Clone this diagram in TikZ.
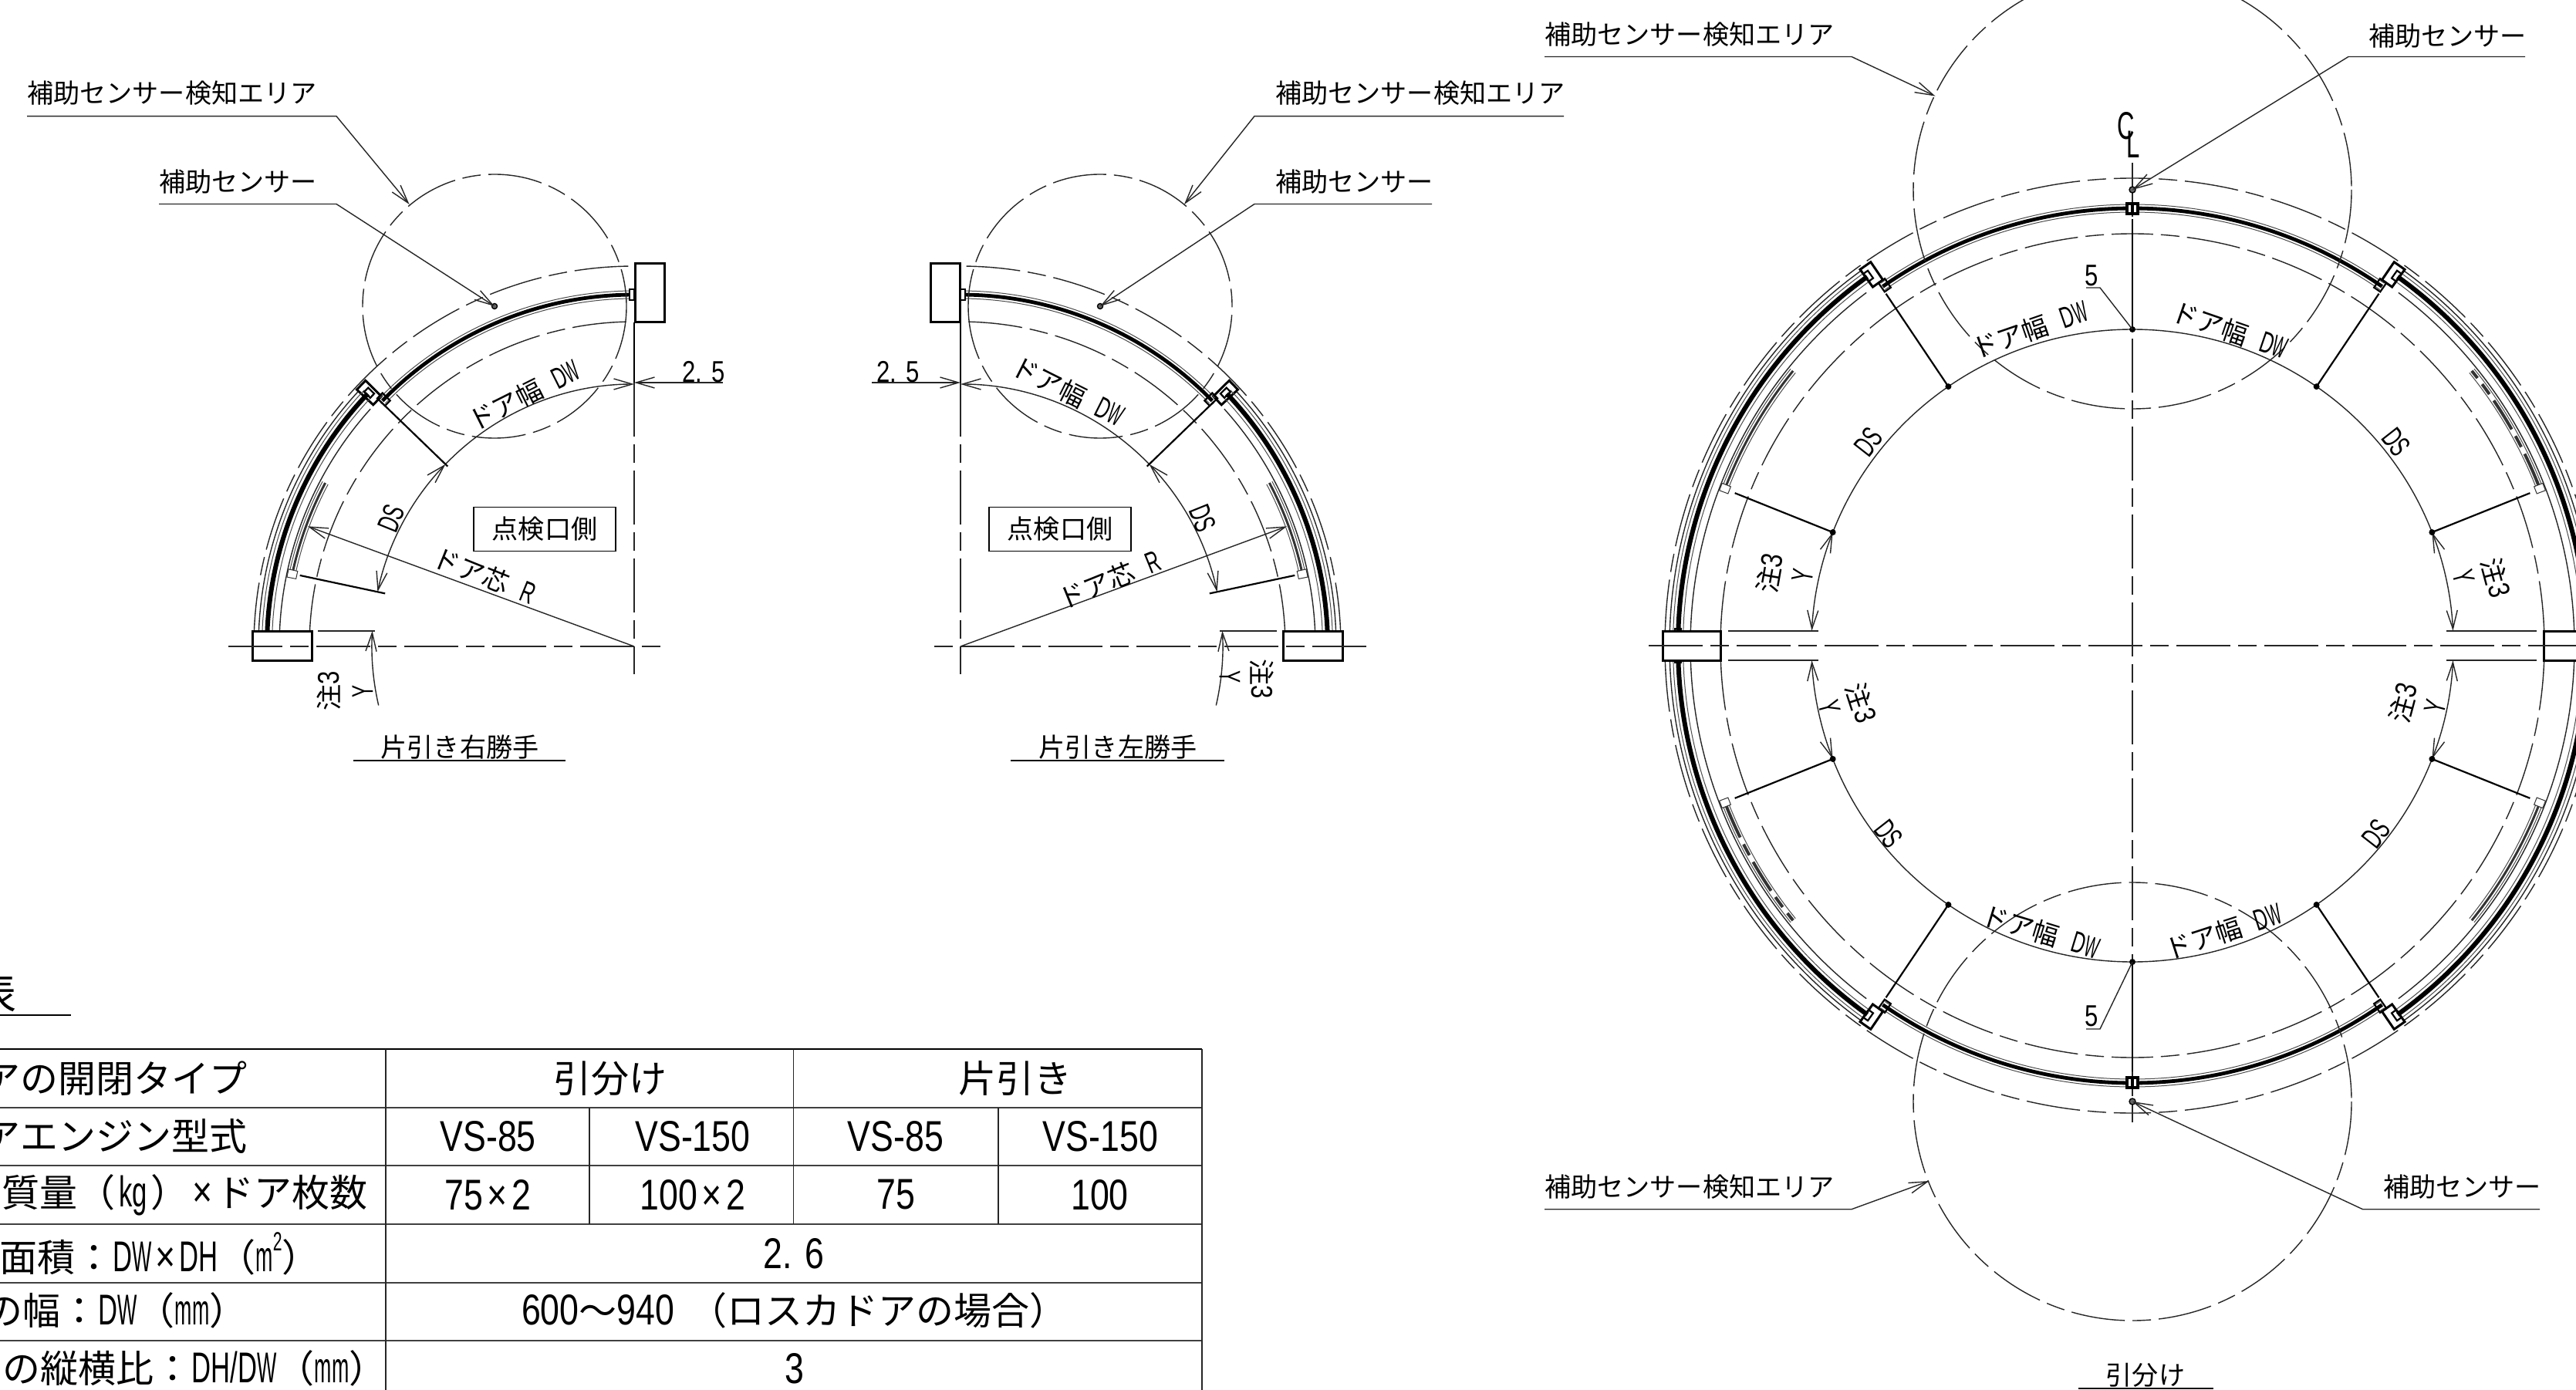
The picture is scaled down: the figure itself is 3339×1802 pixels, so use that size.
\documentclass[tikz,border=0pt]{standalone}
\usepackage{fontspec}
\setmainfont{Noto Sans CJK JP}
\newfontfamily\condf[FakeStretch=0.8,Scale=1.14]{Liberation Sans}
\newfontfamily\condn[FakeStretch=0.62,Scale=1.14]{Liberation Sans}
\newfontfamily\condw[FakeStretch=0.48,Scale=1.14]{Liberation Sans}
\usetikzlibrary{arrows.meta}
\newcommand{\fsA}{\fontsize{17.05}{20}\selectfont}
\newcommand{\fsB}{\fontsize{24.5}{28}\selectfont}
\newcommand{\DWt}{{\condn D}{\condw W}}
\newcommand{\DSt}{{\condn DS}}
\newcommand{\DWlab}{ドア幅\hspace{.55em}\DWt}
\tikzset{
  brb/.tip={Straight Barb[length=12pt,width=7pt]},
  thinl/.style={line width=.7pt,black!85},
  medl/.style={line width=1.1pt,black},
  postl/.style={line width=1.5pt,black,fill=white},
  chain/.style={line width=.7pt,black!85,dash pattern=on 35pt off 5pt on 12pt off 5pt},
  lbl/.style={font=\fsA,inner sep=0pt},
  tbl/.style={font=\fsB,inner sep=0pt},
  dotb/.style={fill=black,draw=none},
}
\newcommand{\arcd}[4][]{\draw[#1] (#2:#4) arc[start angle=#2,end angle=#3,radius=#4];}
\newcommand{\dleaf}[5]{%
  \pgfmathsetmacro{\rpl}{#3+#5}\pgfmathsetmacro{\rmi}{#3-#5}%
  \arcd[line width=.5pt,black!70]{#1}{#2}{\rpl}%
  \arcd[line width=.5pt,black!70]{#1}{#2}{\rmi}%
  \arcd[line width=#4,black]{#1}{#2}{#3}}
\newcommand{\prect}[5][postl]{\draw[#1] (#2:#4) -- (#3:#4) -- (#3:#5) -- (#2:#5) -- cycle;}
% one quarter-circle door run, drawn round its centre
\newcommand{\sidefig}{%
  \arcd[chain]{181.5}{269.5}{421}
  \arcd[chain]{181.5}{269.5}{493}
  \arcd[thinl]{181.5}{224}{487}
  \arcd[thinl]{181.5}{222}{460}
  \prect{222.8}{224.7}{461}{490}
  \dleaf{181.3}{223.5}{476}{3pt}{6.5}
  \dleaf{224.3}{269.3}{456}{2.4pt}{5}
  \prect[medl]{224}{225.2}{449}{463}
  \prect[medl]{223.3}{224.2}{470}{481}
  \draw[medl] (-3,-456) ++(-3,-7) rectangle ++(6,14);
  \draw[medl] (-478,-15) ++(-4.5,-4) rectangle ++(9,11);
  \draw[postl] (-495,-20) rectangle (-418,18);
  \draw[postl] (1,-496) rectangle (39,-420);
  \draw[medl] (0,-420) -- (0,-342);
  \draw[chain] (0,-342) -- (0,36);
  \draw[chain] (-526,0) -- (39,0);
  \draw[thinl] (-410,-20) -- (-336,-20);
  \draw[thinl,-{brb}] (115,-342) -- (0,-342);
  \draw[thinl,-{brb}] (224:340) arc[start angle=224,end angle=270,radius=340];
  \draw[thinl,{brb}-{brb}] (192:340) arc[start angle=192,end angle=224,radius=340];
  \draw[thinl,{brb}-] (183.4:340) arc[start angle=183.4,end angle=167,radius=340];
  \draw[medl] (224:456) -- (224:336);
  \draw[medl] (192:443) -- (192:330);
  \draw[thinl,-{brb}] (0,0) -- (200.2:451);
  \arcd[line width=1.5pt,black!80]{192.6}{207.9}{453}
  \arcd[line width=.5pt,black!70]{192.6}{207.9}{457}
  \arcd[line width=.5pt,black!70]{192.6}{207.9}{449}
  \prect[line width=.5pt,black!80]{191.3}{192.6}{447}{459}
  \draw[chain] (-181,-441) circle[radius=171];
  \draw[line width=.7pt,fill=black!60] (-181,-441) circle[radius=3.5];
}
% one quarter of the bi-parting plan
\newcommand{\bigq}[1]{%
  \arcd[chain]{181.5}{270}{534}
  \arcd[chain]{181.5}{270}{606}
  \arcd[thinl]{181.3}{235}{600}
  \arcd[thinl]{181.3}{233}{573}
  \prect{234.1}{235.7}{574}{602}
  \dleaf{181.3}{234.3}{589}{3pt}{6.5}
  \dleaf{235.2}{269.3}{567}{2.4pt}{5}
  \prect[medl]{235}{236}{560}{574}
  \prect[medl]{234.1}{234.8}{583}{595}
  \draw[medl] (-593,-22) rectangle (-585,-10);
  \draw[thinl] (-524,-19) -- (-407,-19);
  \draw[thinl] (201:416 and 410) arc[start angle=201,end angle=270,x radius=416,y radius=410];
  \draw[thinl,{brb}-{brb}] (182.7:416 and 410) arc[start angle=182.7,end angle=201,x radius=416,y radius=410];
  \draw[medl] (235:557) -- (235:416 and 410);
  \draw[medl] (201:552) -- (201:416 and 410);
  \fill[dotb] (235:416 and 410) circle[radius=4];
  \fill[dotb] (201:416 and 410) circle[radius=4];
  #1
  \prect[line width=.5pt,black!80]{200.6}{201.6}{560}{572}
}
\newcommand{\solidp}{\arcd[line width=1.5pt,black!80]{201.6}{219}{566}\arcd[line width=.5pt,black!70]{201.6}{219}{570}\arcd[line width=.5pt,black!70]{201.6}{219}{562}}
\newcommand{\dashp}{\arcd[line width=2pt,black!80,dash pattern=on 22pt off 5pt on 8pt off 5pt]{201.6}{219}{566}\arcd[line width=.5pt,black!70]{201.6}{219}{570}\arcd[line width=.5pt,black!70]{201.6}{219}{562}}
\begin{document}
\begin{tikzpicture}[x=.5pt,y=-.5pt]
\useasboundingbox (0,0) rectangle (3339,1802);
\clip (0,0) rectangle (3339,1802);
\fill[white] (0,0) rectangle (3339,1802);

% ---------- right-hand run
\begin{scope}[shift={(822,838)}]\sidefig\end{scope}
\node[lbl,anchor=west] (ra) at (35,121) {補助センサー検知エリア};
\coordinate (ra0) at (35,150.6); \coordinate (ra1) at (436,150.6); \coordinate (ra2) at (530.6,265);
\draw[thinl,-{brb}] (ra0) -- (ra1) -- (ra2);
\node[lbl,anchor=west] (rb) at (206,236) {補助センサー};
\coordinate (rb0) at (206,264.5); \coordinate (rb1) at (436,264.5); \coordinate (rb2) at (641,397);
\draw[thinl,-{brb}] (rb0) -- (rb1) -- (rb2);
\node[lbl] (r25) at (912,482) {\condf 2. 5};
\node[lbl,rotate=26.6] (rdw) at (679,513) {\DWlab};
\node[lbl,rotate=68] (rds) at (507,672) {\DSt};
\node[lbl,rotate=-22] (rr) at (628,746) {ドア芯\hspace{.55em}{\condn R}};
\node[lbl,rotate=90] (rn) at (426,896) {注{\condf 3}};
\node[lbl,rotate=90] (ry) at (470,896) {\condn Y};
\node[lbl,draw,line width=.6pt,minimum width=92pt,minimum height=28.3pt] (rk) at (706,686) {点検口側};
\node[lbl] (rt) at (596,969) {片引き右勝手};
\coordinate (rt0) at (458,986); \coordinate (rt1) at (733,986);
\draw[medl] (rt0) -- (rt1);

% ---------- left-hand run
\begin{scope}[shift={(1245,838)},xscale=-1]\sidefig\end{scope}
\node[lbl,anchor=west] (la) at (1653,121) {補助センサー検知エリア};
\coordinate (la0) at (2027,150.6); \coordinate (la1) at (1626,150.6); \coordinate (la2) at (1535,265);
\draw[thinl,-{brb}] (la0) -- (la1) -- (la2);
\node[lbl,anchor=west] (lb) at (1653,236) {補助センサー};
\coordinate (lb0) at (1856,264.5); \coordinate (lb1) at (1626,264.5); \coordinate (lb2) at (1426,397);
\draw[thinl,-{brb}] (lb0) -- (lb1) -- (lb2);
\node[lbl] (l25) at (1164,482) {\condf 2. 5};
\node[lbl,rotate=-26.6] (ldw) at (1384,507) {\DWlab};
\node[lbl,rotate=-68] (lds) at (1559,672) {\DSt};
\node[lbl,rotate=22] (lr) at (1438,752) {ドア芯\hspace{.55em}{\condn R}};
\node[lbl,rotate=-90] (ln) at (1636,880) {注{\condf 3}};
\node[lbl,rotate=-90] (ly) at (1594,878) {\condn Y};
\node[lbl,draw,line width=.6pt,minimum width=92pt,minimum height=28.3pt] (lk) at (1374,686) {点検口側};
\node[lbl] (lt) at (1449,969) {片引き左勝手};
\coordinate (lt0) at (1310,986); \coordinate (lt1) at (1587,986);
\draw[medl] (lt0) -- (lt1);

% ---------- bi-parting plan
\begin{scope}[shift={(2764,837)}]\bigq{\solidp}\end{scope}
\begin{scope}[shift={(2764,837)},xscale=-1]\bigq{\dashp}\end{scope}
\begin{scope}[shift={(2764,837)},yscale=-1]\bigq{\dashp}\end{scope}
\begin{scope}[shift={(2764,837)},xscale=-1,yscale=-1]\bigq{\solidp}\end{scope}
\draw[postl] (2155,818) rectangle (2230,856);
\draw[postl] (3297,818) rectangle (3372,856);
\draw[chain] (2137,837) -- (3339,837);
\draw[chain] (2764,211) -- (2764,1463);
\draw[line width=1.6pt] (2757,264) rectangle (2771,277) (2764,264) -- (2764,277);
\draw[line width=1.6pt] (2757,1397) rectangle (2771,1410) (2764,1397) -- (2764,1410);
\draw[line width=1.4pt] (2764,284) -- (2764,427);
\draw[line width=1.4pt] (2764,1389) -- (2764,1247);
\fill[dotb] (2764,427) circle[radius=4];
\fill[dotb] (2764,1247) circle[radius=4];
\draw[chain] (2764,246) circle[radius=284];
\draw[chain] (2764,1428) circle[radius=284];
\draw[line width=.7pt,fill=black!60] (2764,246) circle[radius=4];
\draw[line width=.7pt,fill=black!60] (2764,1428) circle[radius=4];

\node[lbl,font=\fontsize{22}{24}\selectfont\condn] (cc) at (2756,163) {C};
\node[lbl,font=\fontsize{22}{24}\selectfont\condn] (cl) at (2765,187) {L};

\node[lbl,anchor=west] (ba) at (2002,45) {補助センサー検知エリア};
\coordinate (ba0) at (2002,73.5); \coordinate (ba1) at (2400,73.5); \coordinate (ba2) at (2508.5,124.6);
\draw[thinl,-{brb}] (ba0) -- (ba1) -- (ba2);
\node[lbl,anchor=west] (bb) at (3070,47) {補助センサー};
\coordinate (bb0) at (3273,73.5); \coordinate (bb1) at (3044,73.5); \coordinate (bb2) at (2764,246);
\draw[thinl,-{brb}] (bb0) -- (bb1) -- (bb2);
\node[lbl,anchor=west] (bc) at (2002,1539) {補助センサー検知エリア};
\coordinate (bc0) at (2002,1567.7); \coordinate (bc1) at (2400,1567.7); \coordinate (bc2) at (2500.6,1531);
\draw[thinl,-{brb}] (bc0) -- (bc1) -- (bc2);
\node[lbl,anchor=west] (bd) at (3089,1539) {補助センサー};
\coordinate (bd0) at (3292,1567.7); \coordinate (bd1) at (3062.5,1567.7); \coordinate (bd2) at (2764,1428);
\draw[thinl,-{brb}] (bd0) -- (bd1) -- (bd2);

\node[lbl] (f1) at (2711,357) {\condf 5};
\coordinate (f1a) at (2704,373); \coordinate (f1b) at (2722,373); \coordinate (f1c) at (2764,427);
\draw[thinl] (f1a) -- (f1b) -- (f1c);
\node[lbl] (f2) at (2711,1317) {\condf 5};
\coordinate (f2a) at (2704,1334); \coordinate (f2b) at (2722,1334); \coordinate (f2c) at (2764,1247);
\draw[thinl] (f2a) -- (f2b) -- (f2c);

\node[lbl,rotate=19] (w1) at (2631,428) {\DWlab};
\node[lbl,rotate=-19] (w2) at (2890,428) {\DWlab};
\node[lbl,rotate=-17] (w3) at (2645,1208) {\DWlab};
\node[lbl,rotate=18] (w4) at (2882,1208) {\DWlab};
\node[lbl,rotate=52] (s1) at (2422,573) {\DSt};
\node[lbl,rotate=-52] (s2) at (3106,573) {\DSt};
\node[lbl,rotate=-52] (s3) at (2448,1081) {\DSt};
\node[lbl,rotate=52] (s4) at (3080,1081) {\DSt};
\node[lbl,rotate=80] (n1) at (2294,743) {注{\condf 3}};
\node[lbl,rotate=80] (y1) at (2337,746) {\condn Y};
\node[lbl,rotate=-75] (n2) at (3235,749) {注{\condf 3}};
\node[lbl,rotate=-75] (y2) at (3193,748) {\condn Y};
\node[lbl,rotate=-72] (n3) at (2412,911) {注{\condf 3}};
\node[lbl,rotate=-75] (y3) at (2371,917) {\condn Y};
\node[lbl,rotate=75] (n4) at (3115,911) {注{\condf 3}};
\node[lbl,rotate=75] (y4) at (3157,916) {\condn Y};
\node[lbl] (bt) at (2781,1783) {引分け};
\coordinate (bt0) at (2694,1800); \coordinate (bt1) at (2869,1800);
\draw[medl] (bt0) -- (bt1);

% ---------- table
\node[tbl,anchor=east,font=\fontsize{27}{30}\selectfont] (tt) at (22,1287) {表};
\coordinate (tt0) at (0,1316); \coordinate (tt1) at (92,1316);
\draw[medl] (tt0) -- (tt1);
\draw[line width=1.4pt] (0,1360) -- (1558,1360);
\foreach \yy in {1436,1511,1587,1663,1738} \draw[line width=1pt,black!75] (0,\yy) -- (1558,\yy);
\draw[thinl] (500,1360) -- (500,1802);
\draw[thinl] (1558,1360) -- (1558,1802);
\draw[thinl] (1028.6,1360) -- (1028.6,1587);
\draw[thinl] (764,1436) -- (764,1587);
\draw[thinl] (1294,1436) -- (1294,1587);
\node[tbl,anchor=east] (c11) at (321,1398) {アの開閉タイプ};
\node[tbl,anchor=east] (c21) at (321,1473) {アエンジン型式};
\node[tbl,anchor=east] (c31) at (477,1549) {質量（\hspace{.1em}{\condn kg}\hspace{.1em}）\hspace{.1em}{\condf ×}\hspace{.1em}ドア枚数};
\node[tbl,anchor=east] (c41) at (415,1625) {面積：\DWt\hspace{.1em}{\condf ×}\hspace{.1em}{\condn DH}（{\condw m}\raisebox{.55em}{\fontsize{15}{15}\selectfont\condn 2}）};
\node[tbl,anchor=east] (c51) at (321,1699) {の幅：\DWt（{\condw mm}）};
\node[tbl,anchor=east] (c61) at (502,1774) {の縦横比：{\condn DH/}\DWt（{\condw mm}）};
\node[tbl] (c12) at (791,1398) {引分け};
\node[tbl] (c13) at (1316,1398) {片引き};
\node[tbl] (c22) at (632.6,1473) {\condf VS-85};
\node[tbl] (c23) at (898,1473) {\condf VS-150};
\node[tbl] (c24) at (1161,1473) {\condf VS-85};
\node[tbl] (c25) at (1426.5,1473) {\condf VS-150};
\node[tbl] (c32) at (632.6,1549) {\condf 75\hspace{.1em}×\hspace{.1em}2};
\node[tbl] (c33) at (898,1549) {\condf 100\hspace{.1em}×\hspace{.1em}2};
\node[tbl] (c34) at (1161,1549) {\condf 75};
\node[tbl] (c35) at (1425.5,1549) {\condf 100};
\node[tbl] (c42) at (1028.6,1625) {\condf 2. 6};
\node[tbl] (c52) at (1030,1699) {{\condf 600}～{\condf 940}\hspace{.4em}（ロスカドアの場合）};
\node[tbl] (c62) at (1030,1774) {\condf 3};
\end{tikzpicture}
\end{document}
